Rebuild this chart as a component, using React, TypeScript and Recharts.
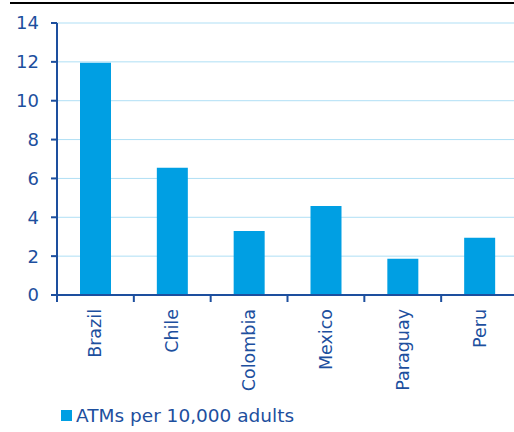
import { Bar, BarChart, CartesianGrid, Legend, XAxis, YAxis } from "recharts";

const countries = ["Brazil", "Chile", "Colombia", "Mexico", "Paraguay", "Peru"];
const atms = [11.95, 6.55, 3.3, 4.58, 1.87, 2.95];
const yTicks = [0, 2, 4, 6, 8, 10, 12, 14];

const data = countries.map((country, i) => ({ country, atms: atms[i] }));

const BLUE_TEXT = "#1d4f9e";
const BAR = "#009fe3";
const FONT = "'DejaVu Sans', sans-serif";

// rotated category label + tick mark on the left edge of each band
const CountryTick = (props: any) => {
  const { x, y, payload } = props;
  const half = payload.offset || 0;
  return (
    <g>
      <line x1={x - half} x2={x - half} y1={y - 8} y2={y - 1} stroke={BLUE_TEXT} strokeWidth={2} />
      <g transform={`translate(${x},${y + 6}) rotate(-90)`}>
        <text textAnchor="end" dominantBaseline="central" fill={BLUE_TEXT} fontSize={17.5} fontFamily={FONT}>
          {payload.value}
        </text>
      </g>
    </g>
  );
};

const LegendBox = () => (
  <div style={{ display: "flex", alignItems: "center", height: 34, paddingLeft: 61, fontFamily: FONT, fontSize: 18.5, color: BLUE_TEXT }}>
    <span style={{ width: 11, height: 11, background: BAR, display: "inline-block", marginRight: 4 }} />
    <span>ATMs per 10,000 adults</span>
  </div>
);

export default function App() {
  return (
    <div style={{ position: "fixed", left: 0, top: 0, width: 514, height: 432, overflow: "hidden", background: "#fff" }}>
      <div style={{ position: "absolute", left: 10, top: 2, width: 504, height: 2, background: "#000" }} />
      <BarChart width={530} height={432} data={data} margin={{ top: 23, right: 12, left: 0, bottom: 0 }}>
        <CartesianGrid horizontal vertical={false} stroke="#afdff5" strokeWidth={1} />
        <XAxis
          dataKey="country"
          height={103}
          interval={0}
          axisLine={{ stroke: BLUE_TEXT, strokeWidth: 2 }}
          tickLine={false}
          tick={<CountryTick />}
        />
        <YAxis
          domain={[0, 14]}
          ticks={yTicks}
          width={57}
          axisLine={{ stroke: BLUE_TEXT, strokeWidth: 2 }}
          tickLine={{ stroke: BLUE_TEXT, strokeWidth: 2 }}
          tickSize={6}
          tickMargin={12}
          tick={{ fill: BLUE_TEXT, fontSize: 18, fontFamily: FONT }}
        />
        <Legend verticalAlign="bottom" align="left" content={<LegendBox />} />
        <Bar dataKey="atms" name="ATMs per 10,000 adults" fill={BAR} barSize={31} isAnimationActive={false} />
      </BarChart>
    </div>
  );
}
